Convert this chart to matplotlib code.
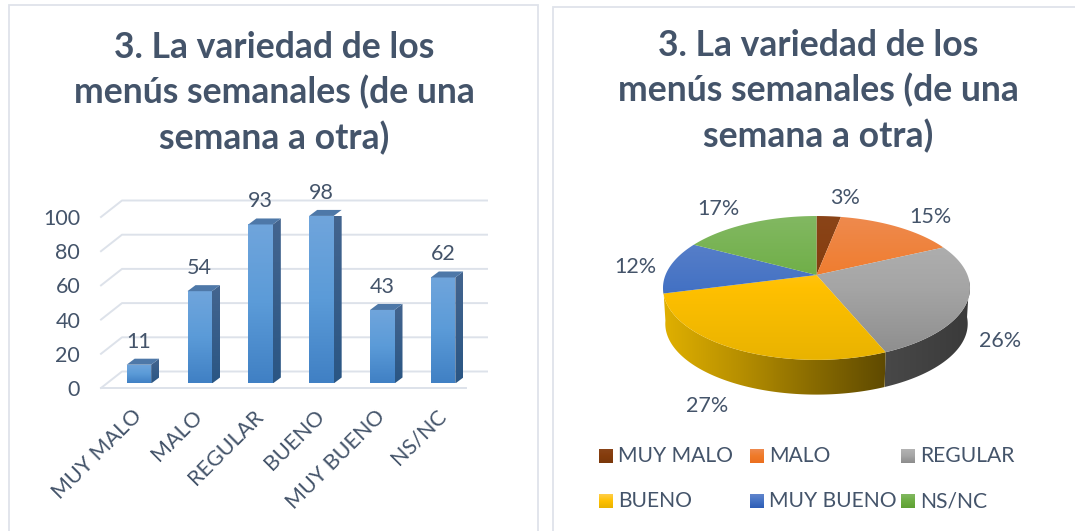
import numpy as np
import matplotlib
matplotlib.use("Agg")
import matplotlib.pyplot as plt
from matplotlib.colors import LinearSegmentedColormap
from matplotlib.patches import Polygon, Rectangle
from matplotlib.transforms import Affine2D

plt.rcParams['font.family'] = ['Lato', 'DejaVu Sans']

# Datos
categorias = ['MUY MALO', 'MALO', 'REGULAR', 'BUENO', 'MUY BUENO', 'NS/NC']
valores = [11, 54, 93, 98, 43, 62]
porcentajes = ['3%', '15%', '26%', '27%', '12%', '17%']
titulo = '3. La variedad de los\nmenús semanales (de una\nsemana a otra)'
ticks_y = [0, 20, 40, 60, 80, 100]

TEXTO = '#44546A'
W, H = 1075, 531

# colores de cada sector: arriba, medio, abajo
colores_pie = [
    ['#8A4418', '#843C0C', '#7A380B'],
    ['#EE8A4E', '#F07A28', '#EB6F1F'],
    ['#B4B4B4', '#A5A5A5', '#8C8C8C'],
    ['#FFCF4A', '#FFC000', '#E9B300'],
    ['#6286CC', '#4472C4', '#2E5DB5'],
    ['#82B862', '#6CAD42', '#5FA033'],
]


def gradiente(ax, colores, patch, extent, horizontal=False):
    # rellena el patch con un degradado usando imshow recortado
    cmap = LinearSegmentedColormap.from_list('g', colores)
    g = np.linspace(0, 1, 128)
    g = g.reshape(1, -1) if horizontal else g.reshape(-1, 1)
    im = ax.imshow(g, cmap=cmap, extent=extent, origin='upper', aspect='auto',
                   zorder=patch.get_zorder(), interpolation='bilinear')
    im.set_transform(patch.get_data_transform())
    im.set_clip_box(None)
    im.set_clip_path(patch)


fig = plt.figure(figsize=(W / 100, H / 100), dpi=100, facecolor='white')


def px_axes(x0, y_top, x1, y_bot):
    return fig.add_axes([x0 / W, 1 - y_bot / H, (x1 - x0) / W, (y_bot - y_top) / H])


# Fondo con las dos tarjetas
fondo = fig.add_axes([0, 0, 1, 1], zorder=-1)
fondo.set_xlim(0, W)
fondo.set_ylim(H, 0)
fondo.axis('off')
fondo.add_patch(Rectangle((8.5, 4.5), 529, 540, fc='white', ec='#DFE3EA', lw=1.3))
fondo.add_patch(Rectangle((552.5, 7), 530, 540, fc='white', ec='#DFE3EA', lw=1.3))

for xc, yc in [(274, 93), (818, 91)]:
    fondo.text(xc, yc, titulo, ha='center', va='center', fontsize=25.6,
               fontweight='bold', color=TEXTO, linespacing=1.39)

# ---- Barras ----
ax = px_axes(101, 217, 466, 388)
ax.set_xlim(-0.5, 5.5)
ax.set_ylim(0, 100)
ax.patch.set_alpha(0)
for s in ax.spines.values():
    s.set_visible(False)
ax.set_yticks(ticks_y)
ax.set_yticklabels(ticks_y, fontsize=15.5, color=TEXTO)
ax.set_xticks(range(len(categorias)))
ax.set_xticklabels(categorias, fontsize=15.5, color=TEXTO, rotation=45,
                   ha='right', rotation_mode='anchor')
ax.tick_params(length=0)
ax.tick_params(axis='y', pad=15)
ax.tick_params(axis='x', pad=13)

# desplazamiento en pixeles de pared y barras
fondo_pared = ax.transData + Affine2D().translate(21, 16.5)
base = ax.transData + Affine2D().translate(7.5, 4.5)
prof = (8, 6)


def a_pantalla(x, y, trans=None):
    return (trans or ax.transData).transform((x, y))


# rejilla en la pared y en el piso
for t in ticks_y:
    p0 = a_pantalla(-0.5, t)
    p1 = a_pantalla(-0.5, t, fondo_pared)
    p2 = a_pantalla(5.5, t, fondo_pared)
    ax.plot([p0[0], p1[0], p2[0]], [p0[1], p1[1], p2[1]], transform=None,
            color='#DDE2EA', lw=1.4, clip_on=False, zorder=1)
p0 = a_pantalla(-0.5, 0)
p1 = a_pantalla(5.5, 0)
ax.plot([p0[0], p1[0]], [p0[1], p1[1]], transform=None, color='#DDE2EA',
        lw=1.4, clip_on=False, zorder=1)

ancho = 24.5 / (365 / 6)
for i, v in enumerate(valores):
    x0, x1 = i - ancho / 2, i + ancho / 2
    frente = Polygon([(x0, 0), (x1, 0), (x1, v), (x0, v)], closed=True, transform=base,
                     fc='none', ec='none', zorder=3, clip_on=False)
    ax.add_patch(frente)
    gradiente(ax, ['#70A5DC', '#5B9BD8', '#4080C4'], frente, (x0, x1, 0, v))
    a = a_pantalla(x1, 0, base)
    b = a_pantalla(x1, v, base)
    c = a_pantalla(x0, v, base)
    dx, dy = prof
    lado = Polygon([a, b, b + (dx, dy), a + (dx, dy)], closed=True, transform=None,
                   fc='none', ec='none', zorder=3, clip_on=False)
    ax.add_patch(lado)
    gradiente_lado = LinearSegmentedColormap.from_list('l', ['#44658F', '#2A5684'])
    im = ax.imshow(np.linspace(0, 1, 64).reshape(-1, 1), cmap=gradiente_lado,
                   extent=(a[0], a[0] + dx, a[1], b[1] + dy), aspect='auto', zorder=3)
    im.set_transform(Affine2D())
    im.set_clip_box(None)
    im.set_clip_path(lado)
    ax.add_patch(Polygon([c, b, b + (dx, dy), c + (dx, dy)], closed=True, transform=None,
                         fc='#4E78A8', ec='none', zorder=3, clip_on=False))
    etiqueta = a_pantalla(i, v, base)
    ax.annotate(str(v), xy=(etiqueta[0], etiqueta[1]), xycoords='figure pixels',
                xytext=(0, 13), textcoords='offset pixels', ha='center', va='bottom',
                fontsize=15.5, color=TEXTO, zorder=5, annotation_clip=False)
ax.set_xlim(-0.5, 5.5)
ax.set_ylim(0, 100)

# ---- Tarta en perspectiva ----
CX, CY = 816.5, 275
axp = px_axes(552, 170, 1075, 531)
axp.set_xlim(552 - CX, 1075 - CX)
axp.set_ylim(CY - 531, CY - 170)
axp.axis('off')

A, B, K = 151.0, 69.6, 0.18
ESCALA_BASE = 0.985
ALTO = 36.0


def borde(theta, escala=1.0, bajar=0.0):
    # punto del borde: circulo proyectado con perspectiva
    w = 1 + K * np.cos(theta)
    return np.column_stack((escala * A * np.sin(theta) / w,
                            escala * B * np.cos(theta) / w - bajar))


fracc = np.array(valores) / sum(valores)
cortes = np.concatenate(([0], np.cumsum(fracc))) * 2 * np.pi
lim_y = (B / (1 + K), -B / (1 - K))

# pared lateral (solo la parte visible)
lados = [
    (np.radians(95), cortes[3], ['#484848', '#3A3A3A']),
    (cortes[3], np.radians(262), ['#E0B000', '#B89000', '#8A6C00', '#5F4A00']),
]
for t0, t1, cols in lados:
    th = np.linspace(t0, t1, 120)
    arriba = borde(th)
    abajo = borde(th, ESCALA_BASE, ALTO)
    puntos = np.vstack((arriba, abajo[::-1]))
    pared = Polygon(puntos, closed=True, fc='none', ec='none', zorder=2,
                    transform=axp.transData)
    axp.add_patch(pared)
    x0, x1 = puntos[:, 0].min(), puntos[:, 0].max()
    y0, y1 = puntos[:, 1].min(), puntos[:, 1].max()
    gradiente(axp, cols, pared, (x0, x1, y0, y1), horizontal=True)

# caras superiores
for i in range(len(valores)):
    th = np.linspace(cortes[i], cortes[i + 1], 100)
    puntos = np.vstack(([[0, 0]], borde(th)))
    cara = Polygon(puntos, closed=True, fc='none', ec='none', zorder=4,
                   transform=axp.transData)
    axp.add_patch(cara)
    gradiente(axp, colores_pie[i], cara, (-A * 1.05, A * 1.05, lim_y[1], lim_y[0]))

# etiquetas de porcentaje
pos_etiquetas = [(845, 198), (930, 217), (1000, 341), (707, 406), (635, 267), (718, 209)]
for txt, (x, y) in zip(porcentajes, pos_etiquetas):
    axp.text(x - CX, CY - y, txt, ha='center', va='center', fontsize=15.5, color=TEXTO)

# leyenda manual en dos filas
cols_leyenda = [599, 750, 901]
filas_leyenda = [456, 501]
for i, cat in enumerate(categorias):
    x = cols_leyenda[i % 3]
    y = filas_leyenda[i // 3]
    cuadro = Rectangle((x - CX, CY - y - 7), 14, 14, fc='none', ec='none', zorder=4)
    axp.add_patch(cuadro)
    gradiente(axp, colores_pie[i], cuadro, (x - CX, x - CX + 14, CY - y - 7, CY - y + 7))
    axp.text(x - CX + 19, CY - y, cat, ha='left', va='center', fontsize=15.2, color=TEXTO)
axp.set_xlim(552 - CX, 1075 - CX)
axp.set_ylim(CY - 531, CY - 170)

fig.savefig('out.png', dpi=100)
